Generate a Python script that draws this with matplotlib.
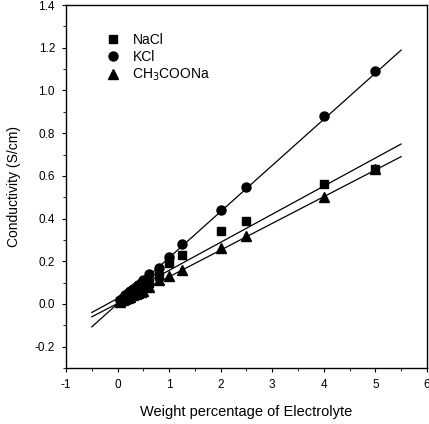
import numpy as np
import matplotlib
matplotlib.use("Agg")
import matplotlib.pyplot as plt

plt.rcParams['font.family'] = ['Liberation Sans', 'DejaVu Sans']

x = [0.05, 0.1, 0.15, 0.2, 0.25, 0.3, 0.35, 0.4, 0.45, 0.5, 0.6, 0.8, 1.0, 1.25, 2.0, 2.5, 4.0, 5.0]
kcl = [0.02, 0.03, 0.04, 0.05, 0.06, 0.07, 0.08, 0.09, 0.10, 0.11, 0.14, 0.17, 0.22, 0.28, 0.44, 0.55, 0.88, 1.09]
nacl = [0.015, 0.025, 0.03, 0.04, 0.045, 0.05, 0.06, 0.065, 0.07, 0.08, 0.10, 0.13, 0.19, 0.23, 0.34, 0.39, 0.56, 0.63]
ch3coona = [0.01, 0.02, 0.025, 0.03, 0.035, 0.04, 0.045, 0.05, 0.055, 0.06, 0.08, 0.11, 0.13, 0.16, 0.26, 0.32, 0.50, 0.63]

# linear fits (slope, intercept)
fit_kcl = (0.216, 0.001)
fit_nacl = (0.1315, 0.026)
fit_ch3 = (0.125, 0.0025)
fit_range = [-0.5, 5.5]

xticks = [-1, 0, 1, 2, 3, 4, 5, 6]
yticks = [-0.2, 0.0, 0.2, 0.4, 0.6, 0.8, 1.0, 1.2, 1.4]

fig = plt.figure(figsize=(4.29, 4.24), dpi=100)
ax = fig.add_axes([0.154, 0.132, 0.841, 0.856])

xf = np.array(fit_range)
for (m, b) in (fit_nacl, fit_kcl, fit_ch3):
    ax.plot(xf, m * xf + b, color='black', lw=0.9)

ax.plot(x, nacl, 's', color='black', ms=6, label='NaCl')
ax.plot(x, kcl, 'o', color='black', ms=6.5, label='KCl')
ax.plot(x, ch3coona, '^', color='black', ms=7, label='CH$_3$COONa')

ax.set_xlim(-1, 6)
ax.set_ylim(-0.3, 1.4)
ax.set_xticks(xticks)
ax.set_xticklabels([str(t) for t in xticks])
ax.set_xticks(np.arange(-1, 6.01, 0.5), minor=True)
ax.set_yticks(yticks)
ax.set_yticklabels(['%.1f' % t for t in yticks])
ax.set_yticks(np.arange(-0.3, 1.41, 0.1), minor=True)
ax.tick_params(which='major', direction='out', length=3, width=0.8, labelsize=8.5, pad=5)
ax.tick_params(which='minor', direction='out', length=2, width=0.6)
for s in ax.spines.values():
    s.set_linewidth(1.0)

ax.set_xlabel('Weight percentage of Electrolyte', fontsize=10.5, labelpad=10)
ax.set_ylabel('Conductivity (S/cm)', fontsize=10, labelpad=10)

leg = ax.legend(loc='upper left', bbox_to_anchor=(0.08, 0.95), frameon=False,
                fontsize=10, handletextpad=0.8, labelspacing=0.2, borderaxespad=0.3,
                handlelength=1.2)

fig.savefig('out.png', dpi=100)
